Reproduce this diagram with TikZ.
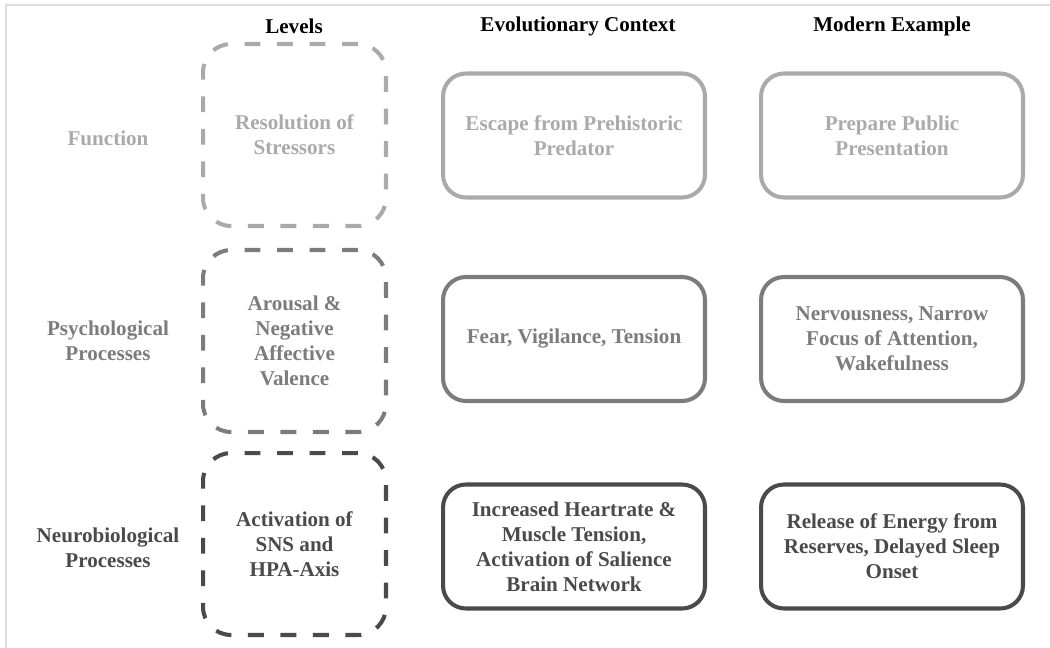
\documentclass[tikz,border=0pt]{standalone}
\usepackage{fontspec}
\setmainfont{Liberation Serif}
\usepackage{tikz}
\definecolor{rowA}{HTML}{AAAAAA}
\definecolor{rowB}{HTML}{7C7C7C}
\definecolor{rowC}{HTML}{4A4A4A}
\definecolor{frameline}{HTML}{DDDDDD}
\tikzset{
    txt/.style={font=\fontsize{12}{14.2}\selectfont\bfseries, align=center},
    lvlbox/.style={txt, draw, line width=2.3pt, rounded corners=16pt, dash pattern=on 9pt off 9.5pt, minimum width=3.66cm, minimum height=3.64cm},
    exbox/.style={txt, draw, line width=2.3pt, rounded corners=13pt, minimum width=5.24cm, minimum height=2.48cm}
}

\begin{document}
\begin{tikzpicture}[x=0.02cm, y=-0.02cm]
    \useasboundingbox (0,0) rectangle (1050,648);
    \draw[frameline, line width=0.8pt] (6,648) -- (6,5) -- (1050,5);

    \node[txt] (hLevels) at (294,26) {Levels};
    \node[txt] (hEvo) at (578,26) {Evolutionary Context};
    \node[txt] (hModern) at (892,26) {Modern Example};

    \node[txt, rowA] (lFunction) at (108,138) {Function};
    \node[txt, rowB] (lPsych) at (108,341) {Psychological\\Processes};
    \node[txt, rowC] (lNeuro) at (108,548) {Neurobiological\\Processes};

    \node[lvlbox, rowA] (vFunction) at (294.5,135) {Resolution of\\Stressors};
    \node[lvlbox, rowB] (vPsych) at (294.5,341) {Arousal \&\\Negative\\Affective\\Valence};
    \node[lvlbox, rowC] (vNeuro) at (294.5,544) {Activation of\\SNS and\\HPA-Axis};

    \node[exbox, rowA] (eFunction) at (574,135.5) {Escape from Prehistoric\\Predator};
    \node[exbox, rowB] (ePsych) at (574,339) {Fear, Vigilance, Tension};
    \node[exbox, rowC] (eNeuro) at (574,546.5) {Increased Heartrate \&\\Muscle Tension,\\Activation of Salience\\Brain Network};

    \node[exbox, rowA] (mFunction) at (892,135.5) {Prepare Public\\Presentation};
    \node[exbox, rowB] (mPsych) at (892,339) {Nervousness, Narrow\\Focus of Attention,\\Wakefulness};
    \node[exbox, rowC] (mNeuro) at (892,546.5) {Release of Energy from\\Reserves, Delayed Sleep\\Onset};
\end{tikzpicture}
\end{document}
